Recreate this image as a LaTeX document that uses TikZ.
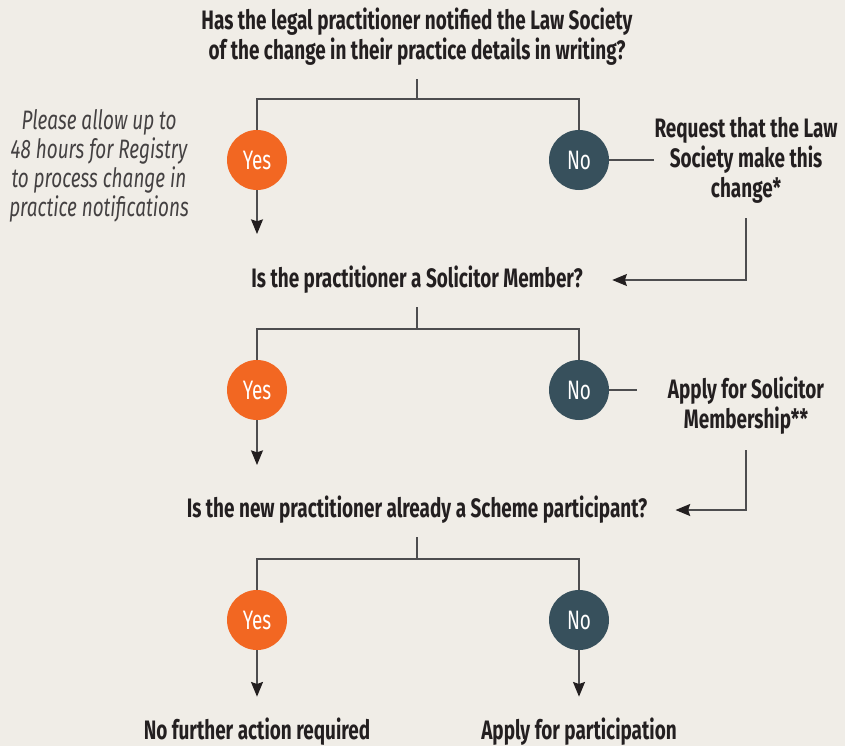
\documentclass[tikz,border=0pt]{standalone}
\usepackage{fontspec}
\setmainfont{Fira Sans}[FakeStretch=0.71]
\usetikzlibrary{arrows.meta}

\definecolor{paper}{HTML}{F0EDE7}
\definecolor{yescol}{HTML}{F26722}
\definecolor{nocol}{HTML}{37505C}
\definecolor{ink}{HTML}{231F20}
\definecolor{wirecol}{HTML}{4D4D4F}

\tikzset{
  question/.style={font=\fontsize{20}{22.5}\selectfont\bfseries, text=ink, align=center, inner sep=0pt},
  note/.style={font=\fontsize{20}{21.75}\selectfont\itshape, text=ink!85, align=center, inner sep=0pt},
  answer/.style={circle, minimum size=45pt, inner sep=0pt, text=white, font=\fontsize{20}{22}\selectfont},
  yesnode/.style={answer, fill=yescol},
  nonode/.style={answer, fill=nocol},
  wire/.style={draw=wirecol, line width=1pt},
  arrow/.style={wire, -{Stealth[length=11pt,width=9pt,inset=1.5pt,color=ink]}},
}

\begin{document}
\begin{tikzpicture}[x=0.75pt,y=-0.75pt]
    \fill[paper] (0,0) rectangle (845,746);
    \useasboundingbox (0,0) rectangle (845,746);
    % questions
    \node[question] (q1) at (417,37) {Has the legal practitioner notified the Law Society\\of the change in their practice details in writing?};
    \node[question] (q2) at (417,280) {Is the practitioner a Solicitor Member?};
    \node[question] (q3) at (417,510) {Is the new practitioner already a Scheme participant?};
    % side texts
    \node[note] (note) at (99,166) {Please allow up to\\48 hours for Registry\\to process change in\\practice notifications};
    \node[question] (r1) at (746,160) {Request that the Law\\Society make this\\change*};
    \node[question] (r2) at (746,406) {Apply for Solicitor\\Membership**};
    \node[question] (e1) at (257,732) {No further action required};
    \node[question] (e2) at (579,732) {Apply for participation};
    % yes / no branches
    \foreach \i/\y in {1/160,2/390,3/620} {
        \node[yesnode] (y\i) at (257,\y) {Yes};
        \node[nonode] (n\i) at (579,\y) {No};
        \coordinate (f\i) at (417,\y-61);
        \draw[wire] (f\i) -- ([yshift=-10pt]q\i.south);
        \draw[wire] (y\i.north) |- (f\i) -| (n\i.north);
    }
    \coordinate (t1) at (257,234);
    \coordinate (t2) at (257,465);
    \draw[arrow] (y1.south) -- (t1);
    \draw[arrow] (y2.south) -- (t2);
    \draw[arrow, shorten >=16pt] (y3.south) -- (e1.north);
    \draw[arrow, shorten >=16pt] (n3.south) -- (e2.north);
    % no loops back
    \draw[wire] (n1.east) -- (n1.east -| r1.west);
    \draw[wire, shorten >=23pt] (n2.east) -- (n2.east -| r2.west);
    \draw[arrow, shorten <=11pt, shorten >=22pt] (r1.south) |- (q2.east);
    \draw[arrow, shorten <=11.5pt, shorten >=21pt] (r2.south) |- (q3.east);
\end{tikzpicture}
\end{document}
